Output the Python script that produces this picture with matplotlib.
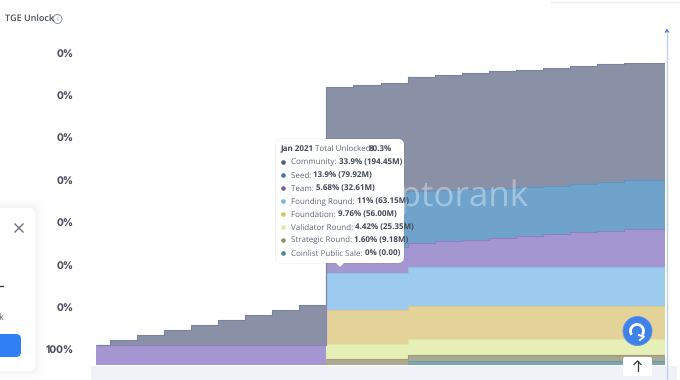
#Token unlock chart, stacked steps with tooltip on top

import matplotlib
matplotlib.use("Agg")
import matplotlib.pyplot as plt
from matplotlib.patches import Arc, Circle, FancyBboxPatch, Polygon

plt.rcParams["text.hinting"] = "no_hinting"
plt.rcParams["text.hinting_factor"] = 1

# months relative to Jan 2021
months = [-8.5, -8, -7, -6, -5, -4, -3, -2, -1,
          0, 1, 2, 3, 4, 5, 6, 7, 8, 9, 10, 11, 12.5]

# % of supply unlocked
coinlist = [0] * 12 + [1.24] * 10
strategic = [0] * 9 + [1.64] * 3 + [1.73] * 10
validator = [0] * 9 + [4.33] * 3 + [4.44] * 10
foundation = [0] * 9 + [9.81] * 3 + [9.69] * 10
founding = [0] * 9 + [10.85] * 3 + [11.08] * 10
team = [5.77] * 9 + [6.26, 6.84, 7.41, 6.92, 7.59, 7.96, 8.37, 9.03, 9.52, 10.10, 10.56, 11.14, 11.14]
seed = [0] * 9 + [16.16, 15.87, 15.58, 15.00, 14.63, 14.54, 14.43, 14.14, 14.02, 13.94, 13.96, 13.96, 13.96]
community = [0, 1.36, 2.80, 4.24, 5.68, 7.13, 8.57, 10.01, 11.45,
              31.25, 31.45, 31.65, 33.06, 33.35, 33.55, 33.76, 33.84, 33.96, 34.05, 34.05, 33.93, 33.93]

series = [coinlist, strategic, validator, foundation, founding, team, seed, community]
fill_colors = ["#7ba6b2", "#aaa88e", "#e5efb6", "#e3d398", "#9ccbef", "#a396d1", "#6fa3cc", "#8a90a5"]
edge_colors = ["#6d98a5", "#9c9a80", "#dbe5a8", "#d9c98c", "#8fc0e6", "#8f80c4", "#5f95c2", "#7d8399"]

y_ticks = [4.33, 16.45, 28.56, 40.97, 53.09, 65.49, 77.61, 89.73]
y_labels = ["100%", "0%", "0%", "0%", "0%", "0%", "0%", "0%"]

tip_names = ["Community", "Seed", "Team", "Founding Round", "Foundation",
             "Validator Round", "Strategic Round", "Coinlist Public Sale"]
tip_values = ["33.9% (194.45M)", "13.9% (79.92M)", "5.68% (32.61M)", "11% (63.15M)",
              "9.76% (56.00M)", "4.42% (25.35M)", "1.60% (9.18M)", "0% (0.00)"]
tip_dots = ["#565c78", "#3f76a8", "#6f5fb0", "#74b4dc", "#d6c25e", "#e3eba0", "#8f9270", "#4f8790"]

W, H = 680, 380
fig = plt.figure(figsize=(6.8, 3.8), dpi=100)
fig.patch.set_facecolor("white")

# main chart
ax = fig.add_axes([96 / W, (H - 365) / H, (665 - 96) / W, (365 - 28) / H])
ax.stackplot(months, series, colors=fill_colors, step="post", linewidth=0)
bottom = [0] * len(months)
for values, edge in zip(series, edge_colors):
    bottom = [b + v for b, v in zip(bottom, values)]
    # the smaller layers only start in 2021, no top line before that
    start = 0 if values is team or values is community else 9
    if values is coinlist:
        start = 12
    ax.step(months[start:], bottom[start:], where="post", color=edge, lw=0.8, solid_capstyle="butt")
ax.set_xlim(-8.5, 12.5)
ax.set_ylim(0, 97.2)
ax.set_xticks([])
ax.set_yticks(y_ticks)
ax.set_yticklabels(y_labels, fontfamily="Inter", fontsize=7.4, fontweight=600, color="#4a4f5c")
ax.tick_params(axis="y", length=0, pad=16)
for spine in ax.spines.values():
    spine.set_visible(False)
ax.text(12.5 - 5.04, 48.3, "cryptorank", ha="right", va="center", fontfamily="Open Sans",
        fontsize=25.5, color="white", alpha=0.36, clip_on=False)

# page furniture and tooltip, in pixel coordinates
ov = fig.add_axes([0, 0, 1, 1], facecolor="none")
ov.set_xlim(0, W)
ov.set_ylim(H, 0)
ov.axis("off")


def box(x, y, w, h, color, round_px=6, **kw):
    ov.add_patch(FancyBboxPatch((x + round_px, y + round_px), w - 2 * round_px, h - 2 * round_px,
                                boxstyle=f"round,pad={round_px}", fc=color, ec="none", **kw))


ov.fill_between([91, 677], 366, 380, color="#eff3f8", lw=0)
ov.plot([667, 667], [32, 380], color="#bdd3ea", lw=1)
ov.add_patch(Polygon([[667, 28.5], [664.5, 32.5], [669.5, 32.5]], fc="#4a7fc0", ec="none"))
ov.plot([551, 680], [1.5, 1.5], color="#ececec", lw=1)

ov.text(5, 19, "TGE Unlock", fontfamily="Open Sans", fontsize=6.4, fontweight=600,
        color="#4a4f5c", va="center")
ov.add_patch(Circle((57.5, 19), 4.5, fc="none", ec="#8b909c", lw=0.7))
ov.text(57.5, 19, "i", fontfamily="Open Sans", fontsize=5.5, color="#8b909c", ha="center", va="center")

# left popup card
for grow, alpha in [(9, 0.012), (6, 0.015), (3, 0.02)]:
    box(-20, 208 - grow, 55 + grow, 163 + 2 * grow, "#5a6a80", round_px=8, alpha=alpha)
box(-20, 208, 55, 163, "white", round_px=7)
ov.plot([15, 23], [224, 232], color="#6b7280", lw=1)
ov.plot([15, 23], [232, 224], color="#6b7280", lw=1)
ov.plot([0, 3], [286, 286], color="#333333", lw=0.9)
ov.text(-1.5, 318, "k", fontfamily="Open Sans", fontsize=6.5, color="#444a55", va="center")
box(-20, 334, 41, 23, "#2f80f5", round_px=5)

# tooltip
box(275, 138, 130, 126, "#000000", round_px=7, alpha=0.04)
box(276, 139, 128, 124, "white", round_px=6)
ov.add_patch(Polygon([[335, 262], [345, 262], [340, 267]], fc="white", ec="none"))

font = dict(fontfamily="Open Sans", fontsize=5.6, va="center")
ov.text(281, 149, "Jan 2021", fontweight=700, color="#434857", **font)
ov.text(315, 149, "Total Unlocked:", color="#5f6675", **font)
ov.text(369, 149, "80.3%", fontweight=700, color="#434857", **font)
for i, (name, value, dot) in enumerate(zip(tip_names, tip_values, tip_dots)):
    y = 162.5 + i * 13
    ov.add_patch(Circle((283.5, y), 2.3, fc=dot, ec="none"))
    label = ov.text(291, y, name + ": ", color="#5f6675", **font)
    ov.annotate(value, xy=(1, 0.5), xycoords=label, va="center", ha="left", fontfamily="Open Sans",
                fontsize=5.6, fontweight=700, color="#434857")

# round button and arrow button
ov.add_patch(Circle((637.5, 331), 14.5, fc="#3f80ea", ec="#5a92ec", lw=0.6))
ov.add_patch(Arc((637, 331), 13, 13, theta1=-215, theta2=35, ec="white", lw=2))
ov.plot([639, 644, 640], [335, 336.5, 340], color="white", lw=1.4)
box(623, 357, 29, 19, "white", round_px=2)
ov.plot([637.5, 637.5], [361, 371], color="#333840", lw=0.9)
ov.plot([634, 637.5, 641], [364.5, 361, 364.5], color="#333840", lw=0.9)

fig.savefig("out.png", dpi=100)
